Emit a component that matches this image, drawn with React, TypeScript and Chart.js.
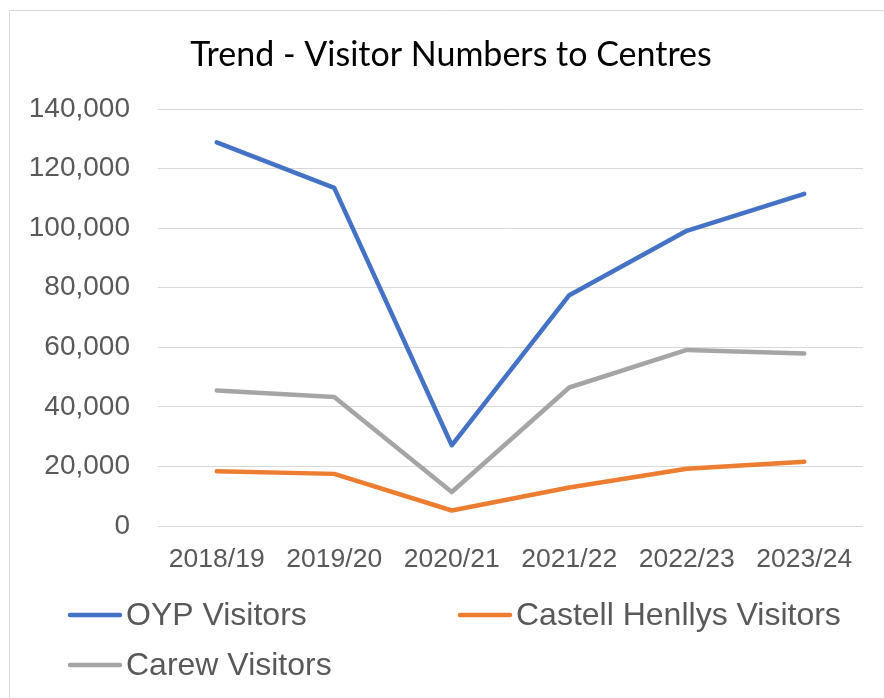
import React, { useEffect, useRef } from "react";
import { Chart, registerables } from "chart.js";

Chart.register(...registerables);

const categories = ["2018/19", "2019/20", "2020/21", "2021/22", "2022/23", "2023/24"];
const oypVisitors = [128800, 113500, 27100, 77500, 99100, 111500];
const castellHenllysVisitors = [18400, 17500, 5200, 12900, 19200, 21600];
const carewVisitors = [45500, 43300, 11400, 46500, 59100, 57900];
const seriesNames = ["OYP Visitors", "Castell Henllys Visitors", "Carew Visitors"];
const seriesColors = ["#4472C4", "#ED7D31", "#A5A5A5"];
const titleText = "Trend - Visitor Numbers to Centres";

const framePlugin = {
  id: "frame",
  beforeDraw(chart: any) {
    const ctx = chart.ctx;
    ctx.save();
    ctx.fillStyle = "#ffffff";
    ctx.fillRect(0, 0, chart.width, chart.height);
    ctx.strokeStyle = "#D9D9D9";
    ctx.lineWidth = 1;
    ctx.beginPath();
    ctx.moveTo(9.5, chart.height);
    ctx.lineTo(9.5, 10.5);
    ctx.lineTo(chart.width, 10.5);
    ctx.stroke();
    ctx.restore();
  },
  afterDraw(chart: any) {
    const ctx = chart.ctx;
    ctx.save();
    // title
    ctx.fillStyle = "#000000";
    ctx.font = "34px Lato, 'Open Sans', sans-serif";
    ctx.textAlign = "center";
    ctx.textBaseline = "alphabetic";
    ctx.fillText(titleText, 451, 66);
    // legend
    const items = [
      { x: 68, y: 615 },
      { x: 458, y: 615 },
      { x: 68, y: 665 },
    ];
    ctx.font = "32px 'Liberation Sans', Arial, sans-serif";
    ctx.textAlign = "left";
    ctx.textBaseline = "middle";
    chart.data.datasets.forEach((ds: any, i: number) => {
      const it = items[i];
      ctx.strokeStyle = ds.borderColor;
      ctx.lineWidth = 4.5;
      ctx.lineCap = "round";
      ctx.beginPath();
      ctx.moveTo(it.x + 2, it.y);
      ctx.lineTo(it.x + 52, it.y);
      ctx.stroke();
      ctx.fillStyle = "#595959";
      ctx.fillText(ds.label, it.x + 58, it.y + 1);
    });
    ctx.restore();
  },
};

export default function App() {
  const ref = useRef<HTMLCanvasElement | null>(null);
  useEffect(() => {
    if (!ref.current) return;
    const seriesData = [oypVisitors, castellHenllysVisitors, carewVisitors];
    const chart = new Chart(ref.current, {
      type: "line",
      data: {
        labels: categories,
        datasets: seriesData.map((d, i) => ({
          label: seriesNames[i],
          data: d,
          borderColor: seriesColors[i],
          backgroundColor: seriesColors[i],
          borderWidth: 4.5,
          borderCapStyle: "round" as const,
          borderJoinStyle: "round" as const,
          pointRadius: 0,
          tension: 0,
        })),
      },
      options: {
        animation: false,
        responsive: false,
        maintainAspectRatio: false,
        layout: { padding: { left: 10, right: 21, top: 109, bottom: 122 } },
        plugins: {
          legend: { display: false },
          title: { display: false },
          tooltip: { enabled: false },
        },
        scales: {
          x: {
            offset: true,
            grid: { display: false },
            border: { display: false },
            ticks: {
              color: "#595959",
              font: { family: "'Liberation Sans', Arial, sans-serif", size: 26.5 },
              padding: 10,
              maxRotation: 0,
              autoSkip: false,
            },
            afterFit(axis: any) {
              axis.height = 50;
            },
          },
          y: {
            min: 0,
            max: 140000,
            border: { display: false },
            grid: { color: "#D9D9D9", lineWidth: 1, drawTicks: false },
            ticks: {
              stepSize: 20000,
              color: "#595959",
              font: { family: "'Liberation Sans', Arial, sans-serif", size: 28 },
              padding: 28,
              callback: (v: any) => Number(v).toLocaleString("en-US"),
            },
            afterFit(axis: any) {
              axis.width = 148;
            },
          },
        },
      },
      plugins: [framePlugin],
    });
    return () => chart.destroy();
  }, []);
  return (
    <div style={{ position: "absolute", left: 0, top: 0, width: 884, height: 698 }}>
      <canvas ref={ref} width={884} height={698} style={{ display: "block" }} />
    </div>
  );
}
